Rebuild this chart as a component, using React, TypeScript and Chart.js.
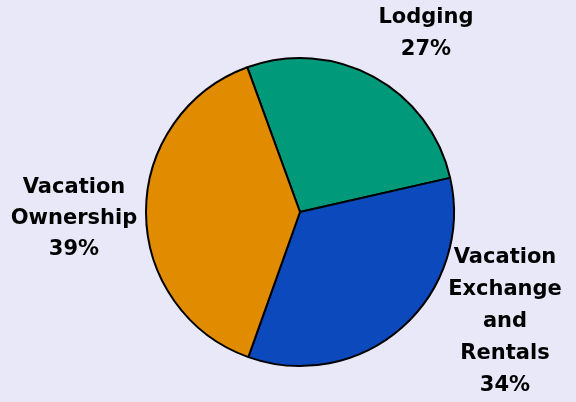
import React, { useEffect, useRef } from "react";
import { Chart, registerables } from "chart.js";

Chart.register(...registerables);

const categories = ["Lodging", "Vacation Exchange and Rentals", "Vacation Ownership"];
const labelLines = [["Lodging", "27%"], ["Vacation", "Exchange", "and", "Rentals", "34%"], ["Vacation", "Ownership", "39%"]];
const values = [27, 34, 39];
const colors = ["#009a7a", "#0b49bd", "#e08b00"];

const bgPlugin = {
  id: "bgFill",
  beforeDraw(chart: any) {
    const ctx = chart.ctx;
    ctx.save();
    ctx.fillStyle = "#e8e8f8";
    ctx.fillRect(0, 0, chart.width, chart.height);
    ctx.restore();
  },
};

// label anchors (center x, first line y) for each slice
const labelAnchors = [
  { x: 426, y: 18 },
  { x: 505, y: 258 },
  { x: 74, y: 188 },
];

const labelPlugin = {
  id: "outerLabels",
  afterDraw(chart: any) {
    const ctx = chart.ctx;
    ctx.save();
    ctx.fillStyle = "#000";
    ctx.font = "bold 21px 'DejaVu Sans'";
    ctx.textAlign = "center";
    ctx.textBaseline = "middle";
    labelLines.forEach((lines, i) => {
      const a = labelAnchors[i];
      const step = i === 2 ? 31 : 32;
      lines.forEach((t, j) => ctx.fillText(t, a.x, a.y + j * step));
    });
    ctx.restore();
  },
};

export default function App() {
  const ref = useRef<HTMLCanvasElement>(null);
  useEffect(() => {
    document.body.style.margin = "0";
    const chart = new Chart(ref.current!, {
      type: "pie",
      data: {
        labels: categories,
        datasets: [
          {
            data: values,
            backgroundColor: colors,
            borderColor: "#000",
            borderWidth: 2,
          },
        ],
      },
      options: {
        animation: false,
        responsive: false,
        rotation: -20,
        layout: { padding: { left: 145, right: 121, top: 57, bottom: 35 } },
        plugins: { legend: { display: false }, tooltip: { enabled: false } },
      },
      plugins: [bgPlugin, labelPlugin],
    });
    return () => chart.destroy();
  }, []);
  return <canvas ref={ref} width={576} height={402} style={{ display: "block" }} />;
}
